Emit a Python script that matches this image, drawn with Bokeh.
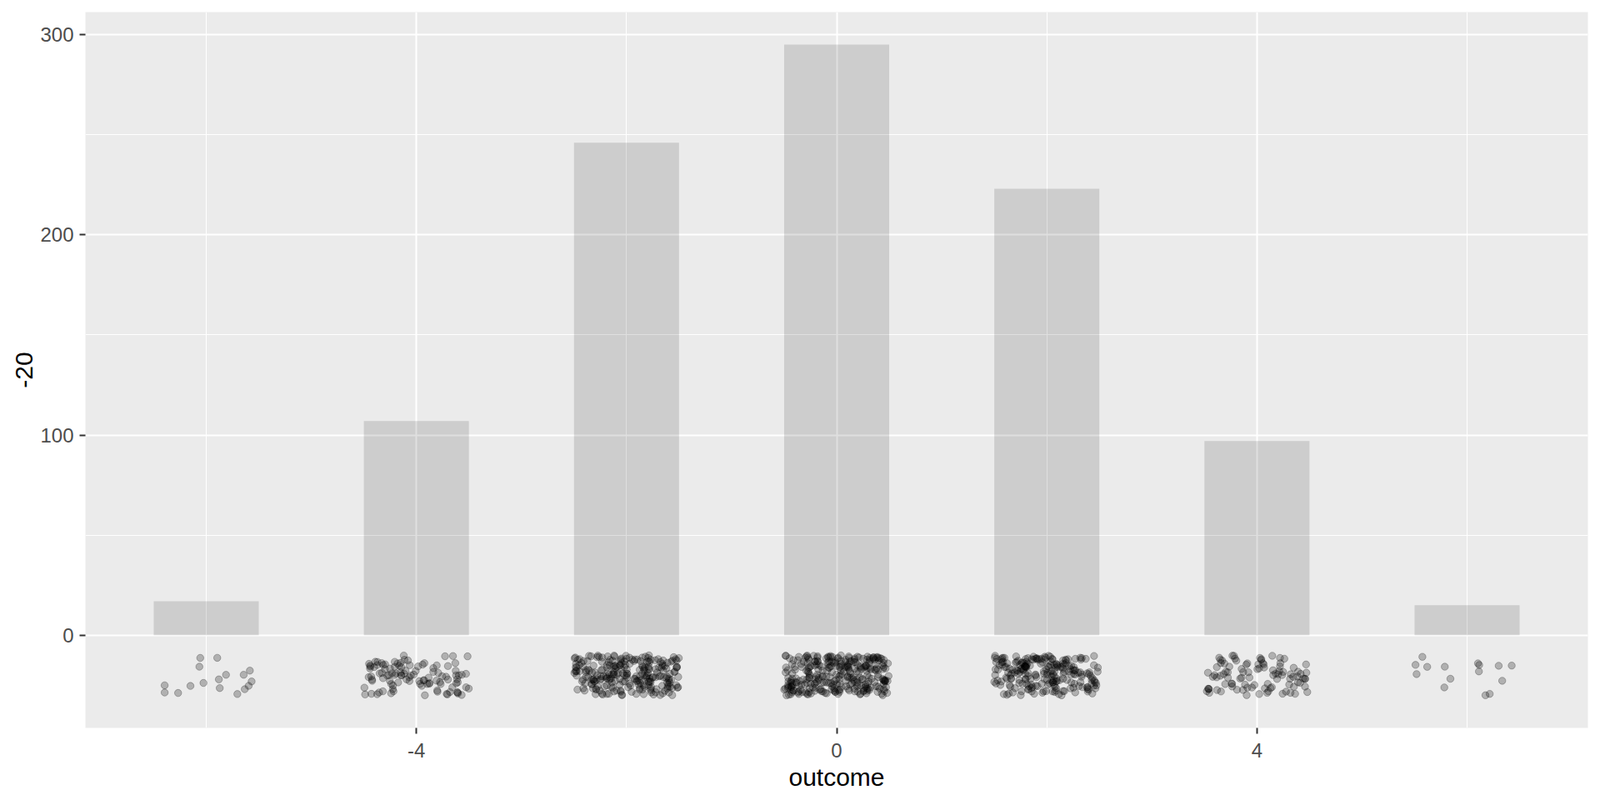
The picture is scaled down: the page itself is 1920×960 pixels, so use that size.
import numpy as np
from bokeh.plotting import figure
from bokeh.models import Range1d, FixedTicker, ColumnDataSource
from bokeh.transform import jitter
from bokeh.embed import file_html
from bokeh.resources import INLINE

# ---- data ----
outcomes = [-6, -4, -2, 0, 2, 4, 6]
counts = [17, 107, 246, 295, 223, 97, 15]
point_level = -20
x_major_ticks = [-4, 0, 4]
x_tick_labels = ["-4", "0", "4"]
x_minor_ticks = [-6, -2, 2, 6]
y_major_ticks = [0, 100, 200, 300]
y_tick_labels = ["0", "100", "200", "300"]
y_minor_ticks = [50, 150, 250]
x_label = "outcome"
y_label = "-20"

bar_src = ColumnDataSource(dict(x=outcomes, top=counts))
pt_src = ColumnDataSource(dict(
    x=np.repeat(outcomes, counts).astype(float),
    y=np.full(int(sum(counts)), float(point_level)),
))

FONT = "Liberation Sans"

p = figure(
    output_backend="svg", toolbar_location=None,
    frame_width=1803, frame_height=859,
    min_border_left=102, min_border_right=15, min_border_top=14, min_border_bottom=87,
    x_range=Range1d(-7.15, 7.15), y_range=Range1d(-46.25, 311.25),
    background_fill_color="#EBEBEB", border_fill_color="white",
)
p.outline_line_color = None

p.vbar(x="x", top="top", width=1.0, source=bar_src,
       fill_color="black", fill_alpha=0.125, line_color=None)

p.scatter(x=jitter("x", width=1.0), y=jitter("y", width=20), source=pt_src,
          size=8.5, fill_color="black", fill_alpha=0.25,
          line_color="black", line_alpha=0.25, line_width=1)

p.xaxis.ticker = FixedTicker(ticks=x_major_ticks, minor_ticks=x_minor_ticks)
p.yaxis.ticker = FixedTicker(ticks=y_major_ticks, minor_ticks=y_minor_ticks)
p.xaxis.major_label_overrides = dict(zip(x_major_ticks, x_tick_labels))
p.yaxis.major_label_overrides = dict(zip(y_major_ticks, y_tick_labels))

for g in (p.xgrid, p.ygrid):
    g.grid_line_color = "white"
    g.grid_line_width = 2
    g.minor_grid_line_color = "white"
    g.minor_grid_line_width = 1

for ax in (p.xaxis, p.yaxis):
    ax.axis_line_color = None
    ax.major_tick_line_color = "#333333"
    ax.major_tick_line_width = 2
    ax.major_tick_out = 7
    ax.major_tick_in = 0
    ax.minor_tick_line_color = None
    ax.major_label_text_font = FONT
    ax.major_label_text_font_size = "24px"
    ax.major_label_text_color = "#4D4D4D"
    ax.axis_label_text_font = FONT
    ax.axis_label_text_font_size = "30px"
    ax.axis_label_text_font_style = "normal"
    ax.axis_label_text_color = "black"

p.xaxis.axis_label = x_label
p.yaxis.axis_label = y_label
p.xaxis.major_label_standoff = 11
p.xaxis.axis_label_standoff = 4
p.yaxis.major_label_standoff = 7
p.yaxis.axis_label_standoff = 6

open("out.html", "w").write(file_html(p, INLINE))
